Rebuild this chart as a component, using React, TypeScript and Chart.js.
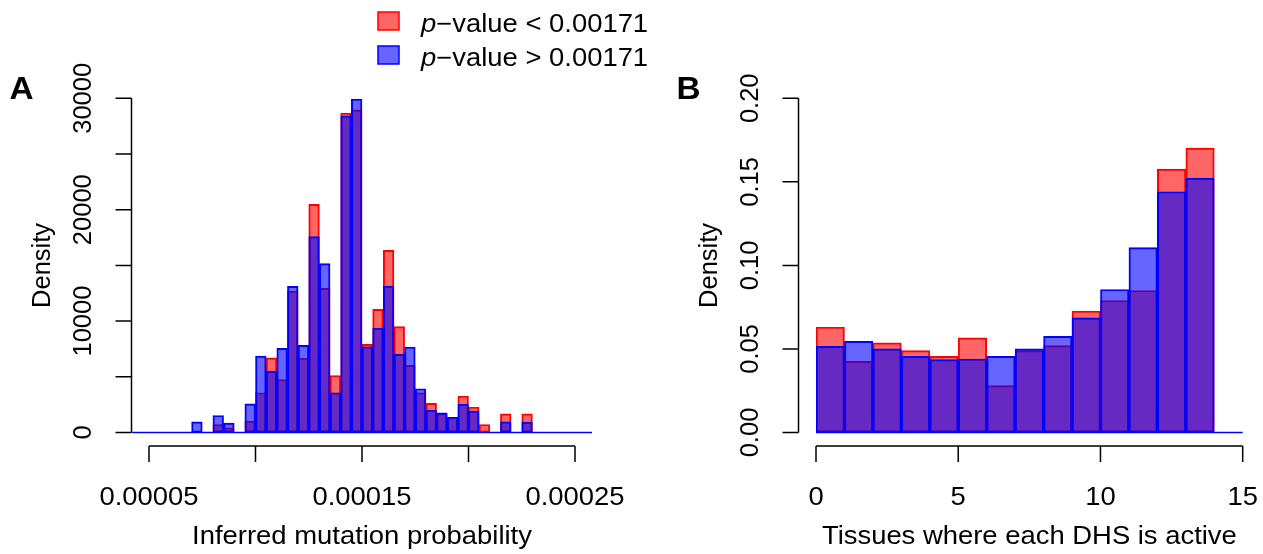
import React, { useEffect, useRef } from "react";
import { Chart, registerables } from "chart.js";

Chart.register(...registerables);

// ---------- Panel A data ----------
const binLeftA = [
  0.00007, 0.000075, 0.00008, 0.000085, 0.00009, 0.000095, 0.0001, 0.000105,
  0.00011, 0.000115, 0.00012, 0.000125, 0.00013, 0.000135, 0.00014, 0.000145,
  0.00015, 0.000155, 0.00016, 0.000165, 0.00017, 0.000175, 0.00018, 0.000185,
  0.00019, 0.000195, 0.0002, 0.000205, 0.00021, 0.000215, 0.00022, 0.000225,
];
const binWidthA = 0.000005;
const redA = [
  0, 0, 720, 420, 0, 1020, 3570, 6710, 4760, 12700, 6680, 20480, 12940, 5120,
  28660, 28960, 7910, 11050, 16350, 9500, 6020, 3570, 2610, 1700, 1370, 3260,
  2270, 720, 0, 1680, 0, 1680,
];
const blueA = [
  960, 0, 1530, 840, 0, 2580, 6860, 5480, 7550, 13120, 7820, 17580, 15160, 3570,
  28420, 29920, 7700, 9370, 13150, 7010, 7660, 3930, 2000, 1770, 1370, 2520,
  1920, 0, 0, 960, 0, 930,
];
const baseRangeA: [number, number] = [0.000042, 0.000258];
const xTicksA = [0.00005, 0.0001, 0.00015, 0.0002, 0.00025];
const xLabelsA = ["0.00005", "", "0.00015", "", "0.00025"];
const yTicksA = [0, 5000, 10000, 15000, 20000, 25000, 30000];
const yLabelsA = ["0", "", "10000", "", "20000", "", "30000"];

// ---------- Panel B data ----------
const binLeftB = [0, 1, 2, 3, 4, 5, 6, 7, 8, 9, 10, 11, 12, 13, 14];
const binWidthB = 1;
const redB = [
  0.063, 0.0426, 0.0536, 0.049, 0.0456, 0.0566, 0.0281, 0.049, 0.052, 0.0726,
  0.079, 0.085, 0.1576, 0.1702, 0,
];
const blueB = [
  0.0516, 0.0546, 0.05, 0.0456, 0.0436, 0.044, 0.0456, 0.05, 0.0576, 0.0686,
  0.0856, 0.1107, 0.1441, 0.1523, 0,
];
const baseRangeB: [number, number] = [0, 15];
const xTicksB = [0, 5, 10, 15];
const xLabelsB = ["0", "5", "10", "15"];
const yTicksB = [0, 0.05, 0.1, 0.15, 0.2];
const yLabelsB = ["0.00", "0.05", "0.10", "0.15", "0.20"];

const legendLabels = ["p\u2212value < 0.00171", "p\u2212value > 0.00171"];

// ---------- styling ----------
const FONT = '"Liberation Sans", Arial, Helvetica, sans-serif';
const SX = 1.075;
const RED_FILL = "rgba(255,0,0,0.6)";
const BLUE_FILL = "rgba(0,0,255,0.6)";
const RED_LINE = "#ff0000";
const BLUE_LINE = "#0000ff";
const W = 1263;
const H = 554;

function hText(ctx: CanvasRenderingContext2D, text: string, x: number, y: number, font: string, align: CanvasTextAlign) {
  ctx.save();
  ctx.font = font;
  ctx.translate(x, y);
  ctx.scale(SX, 1);
  ctx.textAlign = align;
  ctx.textBaseline = "alphabetic";
  ctx.fillStyle = "#000";
  ctx.fillText(text, 0, 0);
  ctx.restore();
}

function vText(ctx: CanvasRenderingContext2D, text: string, x: number, y: number, font: string) {
  ctx.save();
  ctx.font = font;
  ctx.translate(x, y);
  ctx.rotate(-Math.PI / 2);
  ctx.textAlign = "center";
  ctx.textBaseline = "alphabetic";
  ctx.fillStyle = "#000";
  ctx.fillText(text, 0, 0);
  ctx.restore();
}

type Spec = {
  id: string;
  panel: string;
  xTicks: number[];
  xLabels: string[];
  yTicks: number[];
  yLabels: string[];
  xTitle: string;
  yTitle: string;
  baseRange: [number, number];
  legend: boolean;
};

function axesPlugin(spec: Spec) {
  return {
    id: spec.id,
    afterDatasetsDraw(chart: any) {
      const ctx: CanvasRenderingContext2D = chart.ctx;
      const xs = chart.scales.x;
      const ys = chart.scales.y;
      const area = chart.chartArea;
      const y0 = ys.getPixelForValue(0);
      // baseline of histogram
      ctx.save();
      ctx.strokeStyle = BLUE_LINE;
      ctx.lineWidth = 1.6;
      ctx.beginPath();
      ctx.moveTo(xs.getPixelForValue(spec.baseRange[0]), y0);
      ctx.lineTo(xs.getPixelForValue(spec.baseRange[1]), y0);
      ctx.stroke();
      ctx.restore();
    },
    afterDraw(chart: any) {
      const ctx: CanvasRenderingContext2D = chart.ctx;
      const xs = chart.scales.x;
      const ys = chart.scales.y;
      const area = chart.chartArea;
      const tickFont = `25.5px ${FONT}`;
      const tickLen = 16;
      ctx.save();
      ctx.strokeStyle = "#000";
      ctx.lineWidth = 1.5;
      // x axis
      const axY = area.bottom + 13.5;
      const xp = spec.xTicks.map((v) => xs.getPixelForValue(v));
      ctx.beginPath();
      ctx.moveTo(xp[0], axY);
      ctx.lineTo(xp[xp.length - 1], axY);
      xp.forEach((p) => {
        ctx.moveTo(p, axY);
        ctx.lineTo(p, axY + tickLen);
      });
      ctx.stroke();
      // y axis
      const axX = area.left - 17.5;
      const yp = spec.yTicks.map((v) => ys.getPixelForValue(v));
      ctx.beginPath();
      ctx.moveTo(axX, yp[0]);
      ctx.lineTo(axX, yp[yp.length - 1]);
      yp.forEach((p) => {
        ctx.moveTo(axX, p);
        ctx.lineTo(axX - tickLen, p);
      });
      ctx.stroke();
      ctx.restore();

      spec.xLabels.forEach((l, i) => {
        if (l) hText(ctx, l, xp[i], axY + 59, tickFont, "center");
      });
      spec.yLabels.forEach((l, i) => {
        if (l) vText(ctx, l, axX - 41, yp[i], tickFont);
      });
      hText(ctx, spec.xTitle, (xp[0] + xp[xp.length - 1]) / 2, axY + 98, tickFont, "center");
      vText(ctx, spec.yTitle, axX - 82, (yp[0] + yp[yp.length - 1]) / 2, tickFont);
      hText(ctx, spec.panel, axX - 122, 98.5, `bold 31px ${FONT}`, "left");

      if (spec.legend) {
        const fills = [RED_FILL, BLUE_FILL];
        const lines = [RED_LINE, BLUE_LINE];
        legendLabels.forEach((lab, i) => {
          const top = 12 + i * 34;
          ctx.save();
          ctx.fillStyle = fills[i];
          ctx.strokeStyle = lines[i];
          ctx.lineWidth = 1.5;
          ctx.fillRect(378, top, 21, 18);
          ctx.strokeRect(378, top, 21, 18);
          ctx.restore();
          const base = top + 19.5;
          const first = lab.slice(0, 1);
          const rest = lab.slice(1);
          const itFont = `italic 25.5px ${FONT}`;
          hText(ctx, first, 421, base, itFont, "left");
          ctx.save();
          ctx.font = itFont;
          const w = ctx.measureText(first).width * SX;
          ctx.restore();
          hText(ctx, rest, 421 + w, base, tickFont, "left");
        });
      }
    },
  };
}

function makeConfig(
  binLeft: number[],
  binWidth: number,
  red: number[],
  blue: number[],
  xMin: number,
  xMax: number,
  yMax: number,
  padding: any,
  spec: Spec
): any {
  const ds = (vals: number[], fill: string, line: string, order: number, label: string) => ({
    label,
    data: binLeft.map((l, i) => ({ x: l + binWidth / 2, y: vals[i] })),
    backgroundColor: fill,
    borderColor: line,
    borderWidth: 1.3,
    borderSkipped: false,
    grouped: false,
    order,
    categoryPercentage: 1,
    barPercentage: 1,
  });
  return {
    type: "bar",
    data: {
      datasets: [
        ds(red, RED_FILL, RED_LINE, 1, legendLabels[0]),
        ds(blue, BLUE_FILL, BLUE_LINE, 0, legendLabels[1]),
      ],
    },
    options: {
      animation: false,
      responsive: false,
      devicePixelRatio: 1,
      layout: { padding },
      plugins: { legend: { display: false }, tooltip: { enabled: false }, title: { display: false } },
      scales: {
        x: { type: "linear", min: xMin, max: xMax, display: false, offset: false },
        y: { type: "linear", min: 0, max: yMax, display: false },
      },
    },
    plugins: [axesPlugin(spec)],
  };
}

export default function App() {
  const refA = useRef<HTMLCanvasElement | null>(null);
  const refB = useRef<HTMLCanvasElement | null>(null);

  useEffect(() => {
    const chartA = new Chart(
      refA.current as HTMLCanvasElement,
      makeConfig(
        binLeftA,
        binWidthA,
        redA,
        blueA,
        xTicksA[0],
        xTicksA[xTicksA.length - 1],
        yTicksA[yTicksA.length - 1],
        { left: 149, right: W - 575, top: 98.3, bottom: H - 432.5 },
        {
          id: "axesA",
          panel: "A",
          xTicks: xTicksA,
          xLabels: xLabelsA,
          yTicks: yTicksA,
          yLabels: yLabelsA,
          xTitle: "Inferred mutation probability",
          yTitle: "Density",
          baseRange: baseRangeA,
          legend: true,
        }
      )
    );
    const chartB = new Chart(
      refB.current as HTMLCanvasElement,
      makeConfig(
        binLeftB,
        binWidthB,
        redB,
        blueB,
        xTicksB[0],
        xTicksB[xTicksB.length - 1],
        yTicksB[yTicksB.length - 1],
        { left: 816, right: W - 1242.7, top: 98.3, bottom: H - 432.5 },
        {
          id: "axesB",
          panel: "B",
          xTicks: xTicksB,
          xLabels: xLabelsB,
          yTicks: yTicksB,
          yLabels: yLabelsB,
          xTitle: "Tissues where each DHS is active",
          yTitle: "Density",
          baseRange: baseRangeB,
          legend: false,
        }
      )
    );
    return () => {
      chartA.destroy();
      chartB.destroy();
    };
  }, []);

  const cs: React.CSSProperties = { position: "absolute", left: 0, top: 0, width: W, height: H };
  return (
    <div style={{ position: "absolute", left: 0, top: 0, width: W, height: H, background: "#fff" }}>
      <canvas ref={refA} width={W} height={H} style={cs} />
      <canvas ref={refB} width={W} height={H} style={cs} />
    </div>
  );
}
